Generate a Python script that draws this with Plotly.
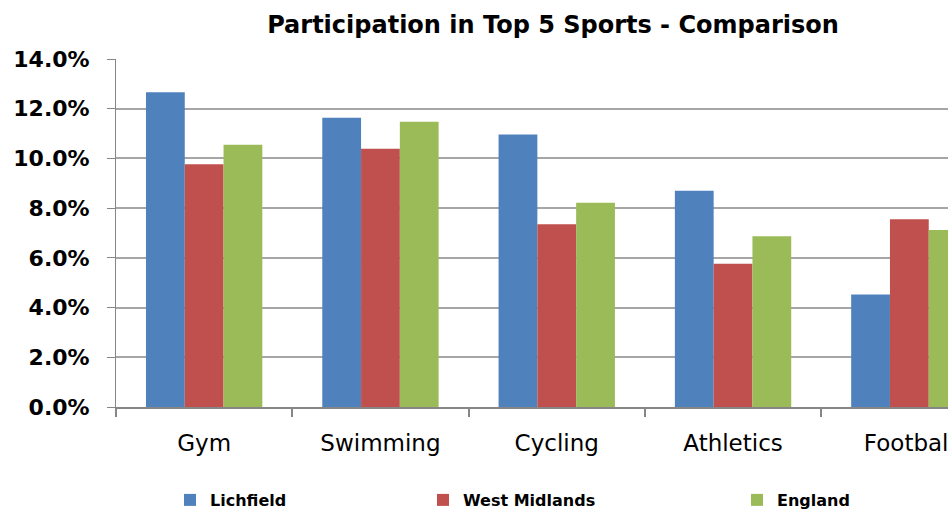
import plotly.graph_objects as go

categories = ["Gym", "Swimming", "Cycling", "Athletics", "Football"]
lichfield = [0.1266, 0.1164, 0.1096, 0.0870, 0.0453]
west_midlands = [0.0977, 0.1039, 0.0735, 0.0576, 0.0755]
england = [0.1055, 0.1148, 0.0822, 0.0687, 0.0712]
y_ticks = [0, 0.02, 0.04, 0.06, 0.08, 0.10, 0.12, 0.14]

series = [("Lichfield", lichfield, "#4F81BD", "legend", 170),
          ("West Midlands", west_midlands, "#C0504D", "legend2", 423),
          ("England", england, "#9BBB59", "legend3", 737)]

W, H = 948, 510

xpos = list(range(len(categories)))
fig = go.Figure()
for name, vals, col, lg, _ in series:
    fig.add_trace(go.Bar(x=xpos, y=vals, name=name, marker_color=col,
                         marker_line_width=0, legend=lg, showlegend=True))

font_main = "DejaVu Sans"
legend_y = 1 - 500 / H
legends = {}
for name, vals, col, lg, lx in series:
    legends[lg] = dict(orientation="h", xref="container", yref="container",
                       x=lx / W, xanchor="left",
                       y=legend_y, yanchor="middle",
                       font=dict(family=font_main, size=16, color="black",
                                 weight="bold"),
                       itemwidth=30, bgcolor="rgba(0,0,0,0)", visible=True)

fig.update_layout(
    width=W, height=H, showlegend=True,
    margin=dict(l=116, r=0, t=58.7, b=H - 407.3, autoexpand=False),
    paper_bgcolor="white", plot_bgcolor="white",
    barmode="group", bargap=0.34, bargroupgap=0,
    title=dict(text="<b>Participation in Top 5 Sports - Comparison</b>",
               font=dict(family=font_main, size=24, color="black"),
               x=553 / W, xanchor="center", xref="container",
               y=1 - 25 / H, yanchor="middle", yref="container"),
    font=dict(family=font_main, color="black"),
    **legends,
)
fig.update_xaxes(
    range=[-0.5, -0.5 + 832 / 176.3], automargin=False,
    tickmode="array", tickvals=xpos, ticktext=categories,
    ticks="", tickfont=dict(size=23, family=font_main, color="black"),
    ticklabelstandoff=14, ticklabeloverflow="allow",
    showline=True, linecolor="#868686", linewidth=2,
    showgrid=False, zeroline=False,
    minor=dict(tick0=-0.5, dtick=1, ticks="outside", ticklen=8,
               tickcolor="#868686", tickwidth=2, showgrid=False),
)
fig.update_yaxes(
    range=[0, 0.14], tickmode="array", tickvals=y_ticks, automargin=False,
    tickformat=".1%",
    tickfont=dict(size=22, family=font_main, color="black", weight="bold"),
    ticks="outside", ticklen=8, tickcolor="#868686", tickwidth=1,
    ticklabelstandoff=13,
    showline=True, linecolor="#868686", linewidth=1,
    showgrid=True, gridcolor="#A6A6A6", gridwidth=1.5, zeroline=False,
)
fig.write_html("out.html", config={"displayModeBar": False},
               post_script="document.body.style.margin='0';document.body.style.overflow='hidden';")
